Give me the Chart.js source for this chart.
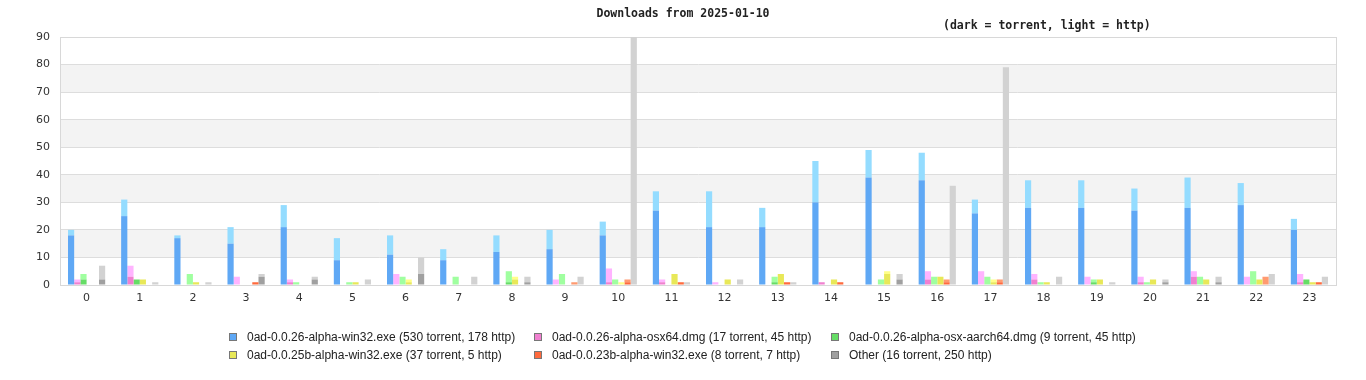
<!DOCTYPE html>
<html>
<head>
<meta charset="utf-8">
<script src="https://cdn.jsdelivr.net/npm/chart.js@4"></script>
<style>
body { margin: 0; background: #fff; }
#wrap { position: relative; width: 1366px; height: 380px; overflow: hidden; }
#chart { position: absolute; left: 0; top: 0; }
.head { position: absolute; font: bold 11.5px "DejaVu Sans Mono", monospace; color: #222; white-space: nowrap; line-height: 14px; }
#title { left: 0; width: 1366px; top: 6px; text-align: center; }
#subtitle { left: 943px; top: 18px; }
.item { position: absolute; font: 12px "Liberation Sans", Arial, sans-serif; color: #222; white-space: nowrap; line-height: 14px; }
.item i { position: absolute; left: -18px; top: 3px; width: 6px; height: 6px; border: 1px solid #777; }
</style>
</head>
<body>
<div id="wrap">
<canvas id="chart" width="1366" height="380"></canvas>
<div class="head" id="title">Downloads from 2025-01-10</div>
<div class="head" id="subtitle">(dark = torrent, light = http)</div>
<div id="legend"></div>
</div>
<script>
const hours = ['0','1','2','3','4','5','6','7','8','9','10','11','12','13','14','15','16','17','18','19','20','21','22','23'];

const win26Torrent = [18,25,17,15,21,9,11,9,12,13,18,27,21,21,30,39,38,26,28,28,27,28,29,20];
const win26Http    = [2,6,1,6,8,8,7,4,6,7,5,7,13,7,15,10,10,5,10,10,8,11,8,4];
const osx26Torrent = [1,3,0,0,1,0,0,0,0,0,1,1,0,0,1,0,2,0,2,0,1,3,0,1];
const osx26Http    = [1,4,0,3,1,0,4,0,0,2,5,1,1,0,0,0,3,5,2,3,2,2,3,3];
const arm26Torrent = [2,2,0,0,0,0,0,0,1,0,0,0,0,1,0,0,0,0,0,1,0,0,0,2];
const arm26Http    = [2,0,4,0,1,1,3,3,4,4,2,0,0,2,0,2,3,3,1,1,1,3,5,0];
const win25Torrent = [0,2,1,0,0,1,1,0,2,0,0,4,2,4,2,4,3,1,1,2,2,2,2,1];
const win25Http    = [0,0,0,0,0,0,1,0,1,0,1,0,0,0,0,1,0,1,0,0,0,0,0,0];
const win23Torrent = [0,0,0,1,0,0,0,0,0,0,1,1,0,1,1,0,1,1,0,0,0,0,0,1];
const win23Http    = [0,0,0,0,0,0,0,0,0,1,1,0,0,0,0,0,1,1,0,0,0,0,3,0];
const otherTorrent = [2,0,0,3,2,0,4,0,1,0,0,0,0,0,0,2,0,0,0,0,1,1,0,0];
const otherHttp    = [5,1,1,1,1,2,6,3,2,3,90,1,2,1,0,2,36,79,3,1,1,2,4,3];

const yTicks = [0,10,20,30,40,50,60,70,80,90];

const seriesNames = ['0ad-0.0.26-alpha-win32.exe', '0ad-0.0.26-alpha-osx64.dmg', '0ad-0.0.26-alpha-osx-aarch64.dmg',
	'0ad-0.0.25b-alpha-win32.exe', '0ad-0.0.23b-alpha-win32.exe', 'Other'];
const torrentData = [win26Torrent, osx26Torrent, arm26Torrent, win25Torrent, win23Torrent, otherTorrent];
const httpData = [win26Http, osx26Http, arm26Http, win25Http, win23Http, otherHttp];
const darkColors = ['#5fa8f5', '#f080d0', '#66dd66', '#e8e858', '#ff6a3d', '#a0a0a0'];
const lightColors = ['#94dcff', '#ffb4ff', '#a0ffa0', '#ffff88', '#ff9a70', '#d2d2d2'];

const sum = arr => arr.reduce((a, b) => a + b, 0);

const datasets = [];
seriesNames.forEach((name, i) => {
	datasets.push({ label: name + ' torrent', data: torrentData[i], backgroundColor: darkColors[i], stack: 's' + i });
	datasets.push({ label: name + ' http', data: httpData[i], backgroundColor: lightColors[i], stack: 's' + i });
});

// legend, 3 columns x 2 rows
const legendPos = [[247, 330], [552, 330], [849, 330], [247, 348], [552, 348], [849, 348]];
const legend = document.getElementById('legend');
seriesNames.forEach((name, i) => {
	const el = document.createElement('div');
	el.className = 'item';
	el.style.left = legendPos[i][0] + 'px';
	el.style.top = legendPos[i][1] + 'px';
	el.innerHTML = '<i style="background:' + darkColors[i] + '"></i>' + name +
		' (' + sum(torrentData[i]) + ' torrent, ' + sum(httpData[i]) + ' http)';
	legend.appendChild(el);
});

const bandPlugin = {
	id: 'bands',
	beforeDraw(chart) {
		const { ctx, chartArea: a, scales: { y } } = chart;
		ctx.save();
		ctx.fillStyle = '#ffffff';
		ctx.fillRect(a.left, a.top, a.width, a.height);
		ctx.fillStyle = '#f3f3f3';
		for (let v = 10; v < 90; v += 20) {
			const top = y.getPixelForValue(v + 10), bot = y.getPixelForValue(v);
			ctx.fillRect(a.left, top, a.width, bot - top);
		}
		ctx.restore();
	},
	beforeDatasetsDraw(chart) {
		const { ctx, chartArea: a } = chart;
		ctx.save();
		ctx.strokeStyle = '#d8d8d8';
		ctx.lineWidth = 1;
		ctx.strokeRect(Math.round(a.left) + 0.5, Math.round(a.top) + 0.5, Math.round(a.width), Math.round(a.height));
		ctx.restore();
	}
};

const config = {
	type: 'bar',
	data: { labels: hours, datasets: datasets },
	options: {
		responsive: false,
		animation: false,
		layout: { padding: { top: 37, right: 30, bottom: 70, left: 0 } },
		datasets: {
			bar: { categoryPercentage: 0.7, barPercentage: 1, borderWidth: 0 }
		},
		plugins: {
			legend: { display: false },
			tooltip: { enabled: false },
			title: { display: false }
		},
		scales: {
			x: {
				grid: { display: false, drawTicks: false },
				border: { color: '#d0d0d0' },
				ticks: { color: '#333', font: { family: 'DejaVu Sans', size: 11 }, padding: 7, maxRotation: 0, autoSkip: false },
				afterFit: s => { s.height = 25; }
			},
			y: {
				stacked: true,
				min: 0,
				max: 90,
				afterBuildTicks: s => { s.ticks = yTicks.map(v => ({ value: v })); },
				grid: { color: '#dddddd', drawTicks: false },
				border: { color: '#d0d0d0' },
				ticks: { color: '#333', font: { family: 'DejaVu Sans', size: 11 }, padding: 10 },
				afterFit: s => { s.width = 60; }
			}
		}
	},
	plugins: [bandPlugin]
};

const myChart = new Chart(document.getElementById('chart'), config);
</script>
</body>
</html>
